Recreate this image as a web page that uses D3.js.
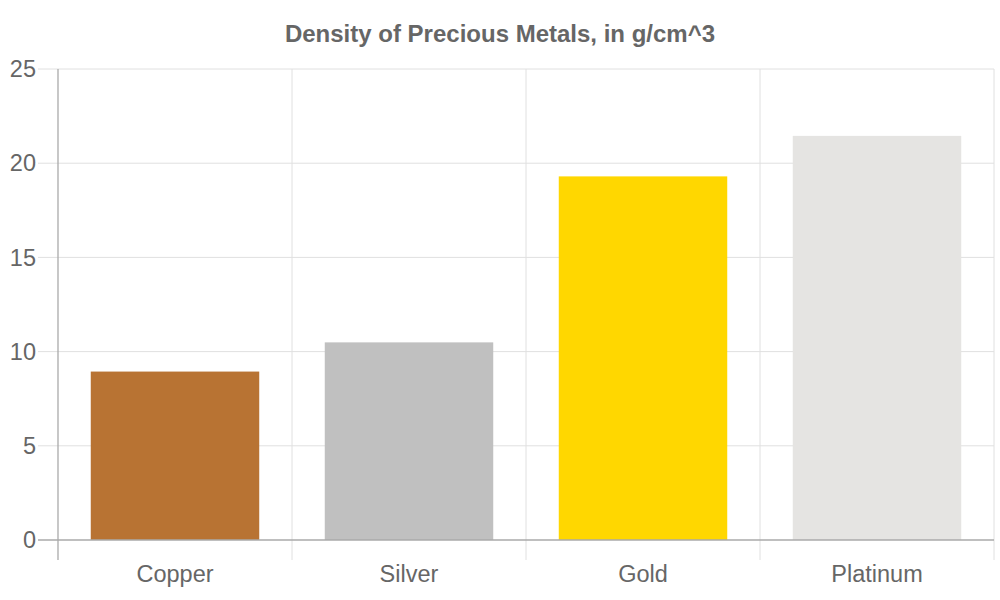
<!DOCTYPE html>
<html><head><meta charset="utf-8">
<script src="https://cdn.jsdelivr.net/npm/d3@7"></script>
<style>body{margin:0;background:#fff;} svg text{font-family:"Liberation Sans",Arial,Helvetica,sans-serif;}</style>
</head><body><svg id="c" width="1000" height="600"></svg>
<script>
const categories = ["Copper", "Silver", "Gold", "Platinum"];
const densities = [8.94, 10.49, 19.30, 21.45];
const barColors = ["#b87333", "#c0c0c0", "#ffd700", "#e5e4e2"];
const yTicks = [0, 5, 10, 15, 20, 25];
const title = "Density of Precious Metals, in g/cm^3";

const svg = d3.select("#c");
const m = {l: 58, r: 994, t: 69, b: 540};
const x = d3.scaleBand().domain(categories).range([m.l, m.r]).paddingInner(0).paddingOuter(0);
const y = d3.scaleLinear().domain([0, 25]).range([m.b, m.t]);

svg.append("text").attr("x", 500).attr("y", 42).attr("text-anchor", "middle")
  .attr("font-size", 24).attr("font-weight", "bold").attr("fill", "#666").text(title);

// horizontal grid
svg.append("g").selectAll("line").data(yTicks.filter(d => d !== 0)).join("line")
  .attr("x1", 38).attr("x2", m.r).attr("y1", d => y(d)).attr("y2", d => y(d))
  .attr("stroke", "#e0e0e0").attr("stroke-width", 1);
// vertical grid
const bounds = categories.map(c => x(c) + x.bandwidth());
svg.append("g").selectAll("line").data(bounds).join("line")
  .attr("x1", d => d).attr("x2", d => d).attr("y1", m.t).attr("y2", 560)
  .attr("stroke", "#e0e0e0").attr("stroke-width", 1);

// bars
const bw = x.bandwidth() * 0.72;
svg.append("g").selectAll("rect").data(categories).join("rect")
  .attr("x", d => x(d) + (x.bandwidth() - bw) / 2)
  .attr("width", bw)
  .attr("y", (d, i) => y(densities[i]))
  .attr("height", (d, i) => y(0) - y(densities[i]))
  .attr("fill", (d, i) => barColors[i]);

// axes lines
svg.append("line").attr("x1", m.l).attr("x2", m.l).attr("y1", m.t).attr("y2", 560)
  .attr("stroke", "#aaa").attr("stroke-width", 1.3);
svg.append("line").attr("x1", 38).attr("x2", m.r).attr("y1", y(0)).attr("y2", y(0))
  .attr("stroke", "#aaa").attr("stroke-width", 1.3);

// y tick labels
svg.append("g").selectAll("text").data(yTicks).join("text")
  .attr("x", 36).attr("y", d => y(d)).attr("dy", "0.35em").attr("text-anchor", "end")
  .attr("font-size", 23.5).attr("fill", "#666").text(d => d);
// x labels
svg.append("g").selectAll("text").data(categories).join("text")
  .attr("x", d => x(d) + x.bandwidth() / 2).attr("y", 582).attr("text-anchor", "middle")
  .attr("font-size", 23.5).attr("fill", "#666").text(d => d);
</script></body></html>
